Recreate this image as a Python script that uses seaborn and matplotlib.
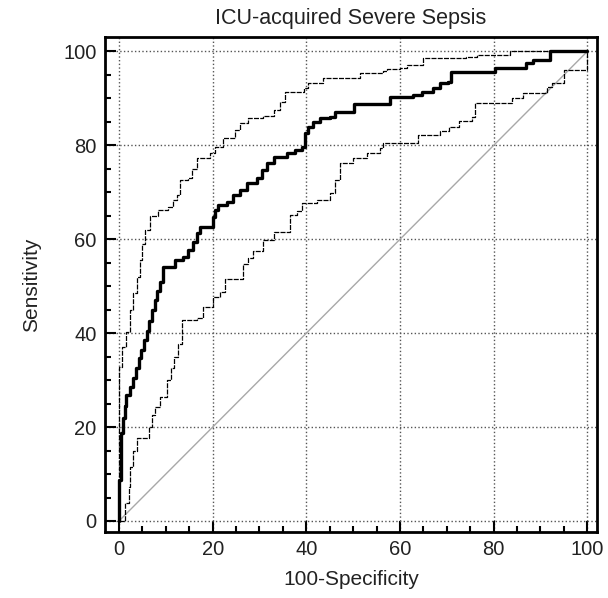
import matplotlib
matplotlib.use("Agg")
import matplotlib.pyplot as plt
import seaborn as sns
from matplotlib.ticker import MultipleLocator

# ROC curve (100-Specificity, Sensitivity), step corners
roc_x = [0, 0, 0.4, 0.8, 1.2, 1.6, 2.4, 3.0, 3.6, 4.2, 4.7, 5.3, 5.9, 6.4, 7.0, 7.6,
         8.2, 8.8, 9.4, 12.0, 13.7, 14.8, 15.9, 16.6, 17.3, 20.1, 20.6, 21.2, 23.0,
         24.4, 25.8, 27.3, 29.4, 30.5, 31.5, 33.0, 35.8, 37.6, 39.0, 39.7, 40.4, 41.5,
         42.9, 45.0, 46.1, 50.2, 57.9, 62.8, 64.6, 67.1, 68.5, 70.3, 70.8, 80.3, 87.0,
         88.5, 92.0, 100]
roc_y = [0, 8.7, 18.7, 22.0, 24.5, 26.8, 28.5, 30.4, 32.5, 34.7, 36.5, 38.5, 40.5,
         42.5, 45.0, 47.0, 49.0, 51.0, 54.2, 55.6, 56.3, 57.7, 59.5, 61.3, 62.7, 64.8,
         66.2, 67.3, 68.0, 69.4, 70.5, 71.9, 73.0, 74.8, 76.2, 77.6, 78.3, 79.0, 79.7,
         82.6, 84.0, 85.0, 85.8, 86.1, 87.2, 88.9, 90.4, 90.7, 91.4, 92.2, 93.2, 93.6,
         95.6, 96.4, 97.5, 98.2, 100, 100]

# upper confidence bound
upper_x = [0, 0, 0.6, 1.6, 2.3, 3.0, 3.8, 4.5, 5.0, 5.6, 6.6, 8.4, 10.5, 11.6, 12.3,
           13.0, 14.8, 15.6, 16.6, 19.4, 20.5, 22.3, 24.8, 25.8, 27.6, 30.8, 33.0,
           34.4, 35.4, 39.4, 40.4, 43.6, 51.5, 56.4, 57.2, 60.0, 61.4, 65.0, 74.2,
           76.4, 83.5, 100]
upper_y = [0, 32.9, 37.1, 40.3, 44.9, 48.6, 52.0, 55.6, 59.1, 62.0, 65.0, 66.2, 66.8,
           68.4, 69.4, 72.6, 73.0, 75.0, 77.3, 78.3, 79.7, 81.5, 83.3, 84.7, 85.8, 86.3,
           87.5, 89.3, 91.4, 92.2, 93.2, 94.4, 95.4, 95.8, 96.3, 96.5, 97.2, 98.6, 98.9,
           99.3, 100, 100]

# lower confidence bound
lower_x = [0, 1.3, 2.1, 2.3, 3.0, 3.8, 6.3, 7.0, 7.7, 8.8, 10.2, 11.0, 11.8, 12.7,
           13.4, 16.6, 18.0, 20.1, 21.6, 22.6, 26.5, 27.5, 28.7, 30.8, 33.0, 36.5,
           38.0, 39.0, 42.2, 45.0, 46.1, 47.2, 50.0, 52.9, 55.7, 56.4, 63.9, 68.5,
           70.5, 72.5, 75.3, 76.0, 84.0, 86.3, 91.3, 92.4, 95.0, 100]
lower_y = [0, 3.8, 7.3, 11.6, 15.0, 17.6, 20.1, 22.5, 24.3, 26.5, 30.0, 32.5, 35.0,
           37.8, 42.8, 43.2, 45.5, 47.8, 48.8, 51.5, 54.7, 56.0, 57.5, 59.8, 61.6, 65.2,
           66.0, 67.7, 68.4, 69.8, 72.6, 76.2, 77.3, 78.3, 79.4, 80.4, 82.2, 83.0, 84.0,
           85.2, 86.1, 89.0, 90.0, 91.1, 92.5, 93.2, 96.0, 100]

diag = [0, 100]
ticks = [0, 20, 40, 60, 80, 100]

sns.set_style("white")
plt.rcParams['font.family'] = ['Liberation Sans', 'DejaVu Sans']

fig = plt.figure(figsize=(6.08, 5.98), dpi=100)
ax = fig.add_axes([0.1727, 0.1104, 0.8092, 0.8278])

sns.lineplot(x=diag, y=diag, ax=ax, color='#a8a8a8', lw=1.0,
             estimator=None, sort=False)
sns.lineplot(x=upper_x, y=upper_y, ax=ax, color='black', lw=0.9,
             linestyle=(0, (4, 1)), drawstyle='steps-post', estimator=None, sort=False)
sns.lineplot(x=lower_x, y=lower_y, ax=ax, color='black', lw=0.9,
             linestyle=(0, (4, 1)), drawstyle='steps-post', estimator=None, sort=False)
sns.lineplot(x=roc_x, y=roc_y, ax=ax, color='black', lw=2.4,
             drawstyle='steps-post', estimator=None, sort=False)

ax.set_xlim(-2.99, 102.07)
ax.set_ylim(-2.34, 103.09)
ax.set_xticks(ticks)
ax.set_yticks(ticks)
ax.xaxis.set_minor_locator(MultipleLocator(5))
ax.yaxis.set_minor_locator(MultipleLocator(5))
ax.grid(True, which='major', linestyle=':', color='#555555', lw=1.0)
ax.set_axisbelow(True)

for s in ax.spines.values():
    s.set_linewidth(2)
    s.set_color('black')

ax.tick_params(which='major', direction='in', length=8, width=1.5,
               labelsize=14.5, pad=6, colors='black', labelcolor='#222222')
ax.tick_params(which='minor', direction='in', length=4.5, width=1.5, colors='black')
ax.tick_params(which='both', top=False, right=False, bottom=True, left=True)

ax.set_xlabel('100-Specificity', fontsize=15, color='#222222', labelpad=8)
ax.set_ylabel('Sensitivity', fontsize=15, color='#222222', labelpad=16)
ax.set_title('ICU-acquired Severe Sepsis', fontsize=15.5, color='#222222', pad=9)

fig.savefig('out.png', dpi=100)
